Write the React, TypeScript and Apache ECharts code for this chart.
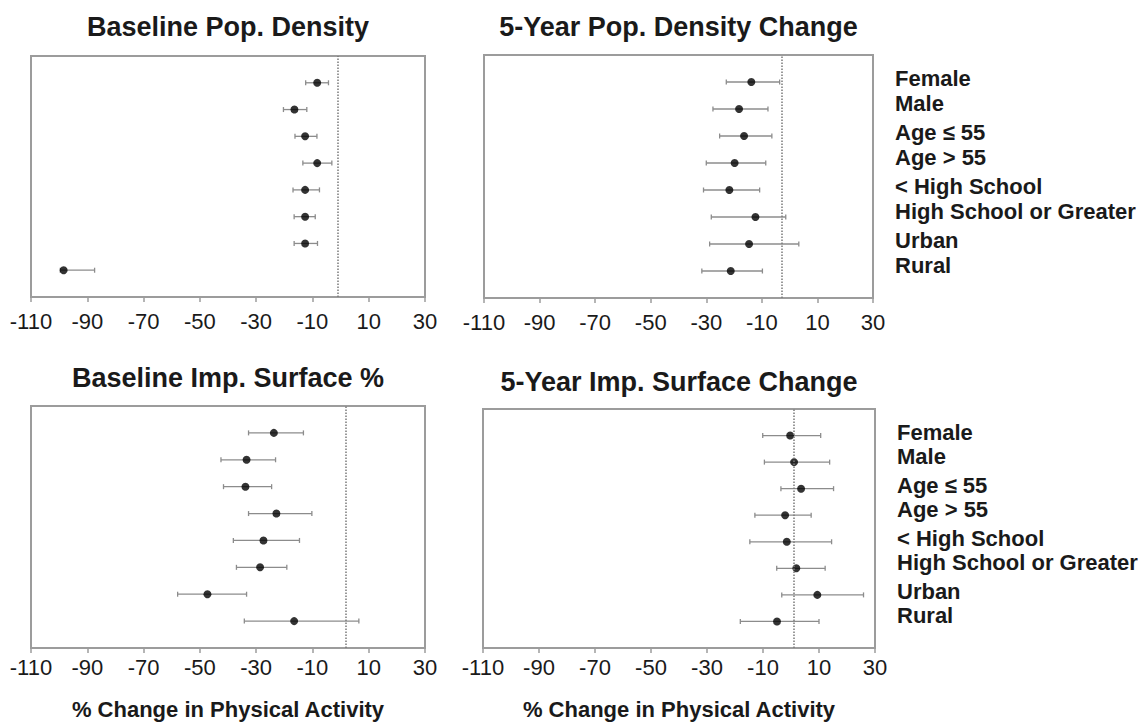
import React, { useEffect, useRef } from "react";
import * as echarts from "echarts";

// ---------- data ----------
const categories = [
  "Female",
  "Male",
  "Age ≤ 55",
  "Age > 55",
  "< High School",
  "High School or Greater",
  "Urban",
  "Rural",
];
const xTicks = [-110, -90, -70, -50, -30, -10, 10, 30];
const panelTitles = [
  "Baseline Pop. Density",
  "5-Year Pop. Density Change",
  "Baseline Imp. Surface %",
  "5-Year Imp. Surface Change",
];
const axisTitle = "% Change in Physical Activity";

// Baseline population density
const basePopEst = [-8.3, -16.4, -12.6, -8.3, -12.6, -12.6, -12.6, -98.4];
const basePopLow = [-12.4, -20.3, -16.2, -13.4, -16.9, -16.5, -16.5, -99.6];
const basePopHigh = [-4.3, -12.0, -8.4, -3.1, -7.5, -9.0, -8.2, -87.4];

// 5-year population density change
const chgPopEst = [-13.8, -18.2, -16.4, -19.8, -21.7, -12.3, -14.6, -21.2];
const chgPopLow = [-22.8, -27.6, -25.2, -30.0, -31.0, -28.2, -28.8, -31.6];
const chgPopHigh = [-3.6, -7.8, -6.4, -8.6, -10.8, -1.4, 3.3, -9.8];

// Baseline impervious surface %
const baseImpEst = [-23.7, -33.4, -33.8, -22.8, -27.4, -28.6, -47.3, -16.5];
const baseImpLow = [-32.7, -42.5, -41.6, -32.7, -38.1, -37.0, -57.9, -34.2];
const baseImpHigh = [-13.2, -23.1, -24.5, -10.2, -14.6, -19.1, -33.4, 6.5];

// 5-year impervious surface change
const chgImpEst = [-0.3, 1.1, 3.6, -2.1, -1.5, 1.9, 9.4, -5.0];
const chgImpLow = [-10.1, -9.5, -3.6, -12.9, -14.7, -5.1, -3.3, -18.1];
const chgImpHigh = [10.6, 13.8, 15.2, 7.2, 14.5, 12.2, 25.9, 10.0];

// dotted reference lines (as drawn)
const refLines = [-1, -3, 2, 1];

const panels = [
  { est: basePopEst, low: basePopLow, high: basePopHigh },
  { est: chgPopEst, low: chgPopLow, high: chgPopHigh },
  { est: baseImpEst, low: baseImpLow, high: baseImpHigh },
  { est: chgImpEst, low: chgImpLow, high: chgImpHigh },
];

// ---------- layout / style ----------
const FONT = "'Liberation Sans', Arial, Helvetica, sans-serif";
const grids = [
  { left: 31, top: 56, width: 394, height: 241 },
  { left: 484, top: 55, width: 389, height: 243 },
  { left: 31, top: 406, width: 394, height: 242 },
  { left: 483, top: 409, width: 392, height: 239 },
];
const titleCenters = [28, 28, 379, 383];
const labelMargins = [13, 13, 8, 8];
const GRAY = "#9c9c9c";
const TEXT = "#1a1a1a";

function buildOption() {
  const n = categories.length;
  const option: any = {
    animation: false,
    backgroundColor: "#ffffff",
    title: panelTitles.map((t, i) => ({
      text: t,
      left: grids[i].left + grids[i].width / 2,
      top: titleCenters[i] - 15,
      textAlign: "center",
      padding: 0,
      textStyle: {
        fontFamily: FONT,
        fontSize: 27,
        fontWeight: "bold",
        color: TEXT,
      },
    })),
    grid: grids.map((g) => ({
      ...g,
      show: true,
      borderColor: GRAY,
      borderWidth: 2,
      backgroundColor: "transparent",
    })),
    xAxis: grids.map((g, i) => ({
      type: "value",
      gridIndex: i,
      min: -110,
      max: 30,
      splitLine: { show: false },
      axisLine: { show: true, onZero: false, lineStyle: { color: GRAY, width: 2 } },
      axisTick: {
        show: true,
        length: 5,
        customValues: xTicks,
        lineStyle: { color: GRAY, width: 1.5 },
      },
      axisLabel: {
        customValues: xTicks,
        margin: labelMargins[i],
        fontFamily: FONT,
        fontSize: 22,
        color: TEXT,
      },
      name: i >= 2 ? axisTitle : "",
      nameLocation: "middle",
      nameGap: 50,
      nameTextStyle: {
        fontFamily: FONT,
        fontSize: 22,
        fontWeight: "bold",
        color: TEXT,
      },
    })),
    yAxis: grids.map((g, i) => ({
      type: "value",
      gridIndex: i,
      min: 0,
      max: n + 1,
      interval: 1,
      position: "right",
      splitLine: { show: false },
      axisLine: { show: false },
      axisTick: { show: false },
      axisLabel: {
        show: i % 2 === 1,
        margin: 22,
        formatter: (v: number) => {
          if (v < 1 || v > n) return "";
          const k = n - v;
          return (k % 2 === 0 ? "{a|" : "{b|") + categories[k] + "}";
        },
        rich: {
          a: {
            fontFamily: FONT,
            fontSize: 22,
            fontWeight: "bold",
            color: TEXT,
            padding: [0, 0, 7, 0],
          },
          b: {
            fontFamily: FONT,
            fontSize: 22,
            fontWeight: "bold",
            color: TEXT,
            padding: [0, 0, 12, 0],
          },
        },
      },
    })),
    series: [] as any[],
  };

  panels.forEach((p, i) => {
    option.series.push({
      type: "custom",
      xAxisIndex: i,
      yAxisIndex: i,
      silent: true,
      encode: { x: [1, 2], y: 0 },
      data: p.est.map((_, k) => [n - k, p.low[k], p.high[k]]),
      renderItem: (params: any, api: any) => {
        const y = api.value(0);
        const lo = api.value(1);
        const hi = api.value(2);
        const a = api.coord([lo, y]);
        const b = api.coord([hi, y]);
        const style = { stroke: "#8c8c8c", lineWidth: 1.3 };
        const cap = 2.5;
        return {
          type: "group",
          children: [
            { type: "line", shape: { x1: a[0], y1: a[1], x2: b[0], y2: b[1] }, style },
            { type: "line", shape: { x1: a[0], y1: a[1] - cap, x2: a[0], y2: a[1] + cap }, style },
            { type: "line", shape: { x1: b[0], y1: b[1] - cap, x2: b[0], y2: b[1] + cap }, style },
          ],
        };
      },
      z: 2,
    });
    option.series.push({
      type: "scatter",
      xAxisIndex: i,
      yAxisIndex: i,
      symbol: "circle",
      symbolSize: 8,
      itemStyle: { color: "#000000" },
      data: p.est.map((v, k) => [v, n - k]),
      z: 3,
      markLine: {
        silent: true,
        symbol: ["none", "none"],
        label: { show: false },
        lineStyle: { type: "dotted", color: "#7a7a7a", width: 1.5 },
        data: [{ xAxis: refLines[i] }],
      },
    });
  });
  return option;
}

export default function App() {
  const ref = useRef<HTMLDivElement>(null);
  useEffect(() => {
    if (!ref.current) return;
    const chart = echarts.init(ref.current, undefined, { renderer: "svg" });
    chart.setOption(buildOption());
    return () => chart.dispose();
  }, []);
  return (
    <div
      ref={ref}
      style={{
        position: "absolute",
        left: 0,
        top: 0,
        width: 1143,
        height: 722,
        background: "#ffffff",
      }}
    />
  );
}
